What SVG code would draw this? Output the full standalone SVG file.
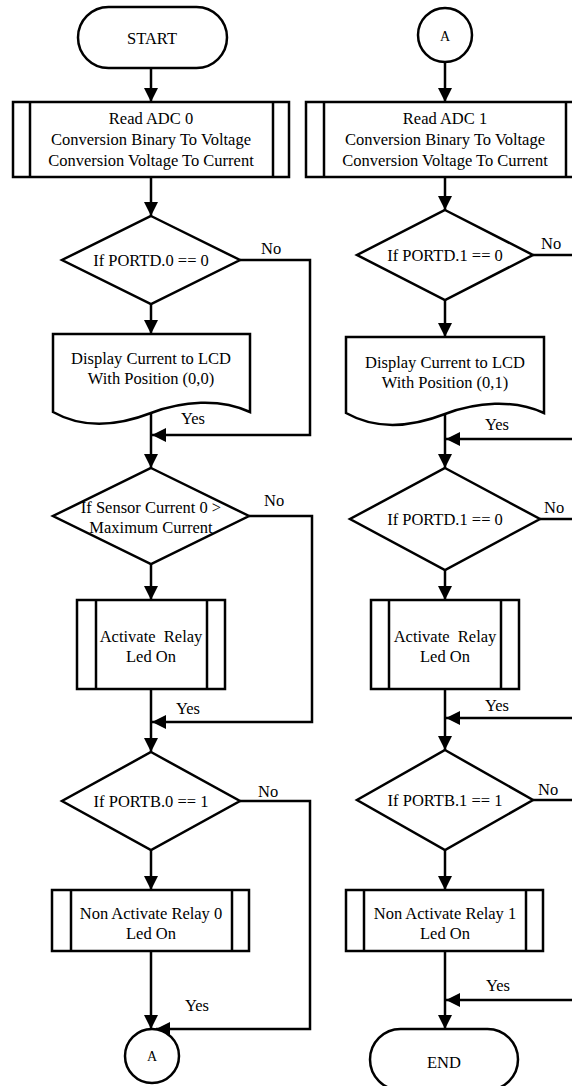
<svg xmlns="http://www.w3.org/2000/svg" width="572" height="1086" viewBox="0 0 572 1086">
<style>
.s{fill:#fff;stroke:#000;stroke-width:2.5}
.l{fill:none;stroke:#000;stroke-width:2.5}
text{font-family:"Liberation Serif","Times New Roman",serif;font-size:16.5px;fill:#000;text-anchor:middle;dominant-baseline:central}
.lb{text-anchor:start}
.sm{font-size:14px}
</style>
<defs>
<marker id="ah" markerUnits="userSpaceOnUse" markerWidth="16" markerHeight="14" refX="14" refY="7" orient="auto">
<path d="M0,0 L14,7 L0,14 Z" fill="#000"/>
</marker>
</defs>
<g id="connectors">
<line class="l" x1="151" y1="68" x2="151" y2="102" marker-end="url(#ah)"/>
<line class="l" x1="151" y1="177" x2="151" y2="216" marker-end="url(#ah)"/>
<line class="l" x1="151" y1="304" x2="151" y2="334" marker-end="url(#ah)"/>
<polyline class="l" points="240,260 310,260 310,435 152,435" marker-end="url(#ah)"/>
<line class="l" x1="151" y1="413" x2="151" y2="468" marker-end="url(#ah)"/>
<line class="l" x1="151" y1="564" x2="151" y2="600" marker-end="url(#ah)"/>
<polyline class="l" points="249,516 312,516 312,722 152,722" marker-end="url(#ah)"/>
<line class="l" x1="151" y1="689" x2="151" y2="752" marker-end="url(#ah)"/>
<line class="l" x1="151" y1="850" x2="151" y2="890" marker-end="url(#ah)"/>
<polyline class="l" points="240,801 310,801 310,1029 156,1029" marker-end="url(#ah)"/>
<line class="l" x1="151" y1="951" x2="151" y2="1029" marker-end="url(#ah)"/>
<line class="l" x1="445" y1="62" x2="445" y2="102" marker-end="url(#ah)"/>
<line class="l" x1="445" y1="177" x2="445" y2="210" marker-end="url(#ah)"/>
<line class="l" x1="445" y1="300" x2="445" y2="337" marker-end="url(#ah)"/>
<line class="l" x1="533" y1="255" x2="580" y2="255"/>
<line class="l" x1="580" y1="439" x2="446" y2="439" marker-end="url(#ah)"/>
<line class="l" x1="445" y1="413" x2="445" y2="468" marker-end="url(#ah)"/>
<line class="l" x1="445" y1="570" x2="445" y2="600" marker-end="url(#ah)"/>
<line class="l" x1="540" y1="519" x2="580" y2="519"/>
<line class="l" x1="580" y1="718" x2="446" y2="718" marker-end="url(#ah)"/>
<line class="l" x1="445" y1="689" x2="445" y2="750" marker-end="url(#ah)"/>
<line class="l" x1="445" y1="850" x2="445" y2="890" marker-end="url(#ah)"/>
<line class="l" x1="533" y1="800" x2="580" y2="800"/>
<line class="l" x1="580" y1="1000" x2="446" y2="1000" marker-end="url(#ah)"/>
<line class="l" x1="445" y1="951" x2="445" y2="1029" marker-end="url(#ah)"/>
<text class="lb" x="261" y="248">No</text>
<text class="lb" x="181" y="418">Yes</text>
<text class="lb" x="264" y="500">No</text>
<text class="lb" x="176" y="708">Yes</text>
<text class="lb" x="258" y="791">No</text>
<text class="lb" x="185" y="1005">Yes</text>
<text class="lb" x="541" y="243">No</text>
<text class="lb" x="485" y="424">Yes</text>
<text class="lb" x="544" y="507">No</text>
<text class="lb" x="485" y="705">Yes</text>
<text class="lb" x="538" y="789">No</text>
<text class="lb" x="486" y="985">Yes</text>
</g>
<g id="start">
<rect class="s" x="78" y="7" width="149" height="61" rx="30.5"/>
<text x="152" y="38">START</text>
</g>
<g id="read0">
<rect class="s" x="13" y="102" width="276" height="75"/>
<line class="l" x1="30" y1="102" x2="30" y2="177"/>
<line class="l" x1="273" y1="102" x2="273" y2="177"/>
<text x="151" y="118">Read ADC 0</text>
<text x="151" y="139">Conversion Binary To Voltage</text>
<text x="151" y="160">Conversion Voltage To Current</text>
</g>
<g id="dec0a">
<polygon class="s" points="151,216 240,260 151,304 62,260"/>
<text x="151" y="260">If PORTD.0 == 0</text>
</g>
<g id="disp0">
<path class="s" d="M53,334 H250 V412 C220,398 182,401 151,413 C120,425 85,430 53,412 Z"/>
<text x="151" y="358">Display Current to LCD</text>
<text x="151" y="378">With Position (0,0)</text>
</g>
<g id="dec0b">
<polygon class="s" points="151,468 249,516 151,564 53,516"/>
<text x="151" y="507">If Sensor Current 0 &gt;</text>
<text x="151" y="527">Maximum Current</text>
</g>
<g id="act0">
<rect class="s" x="77" y="600" width="148" height="89"/>
<line class="l" x1="96" y1="600" x2="96" y2="689"/>
<line class="l" x1="207" y1="600" x2="207" y2="689"/>
<text x="151" y="636" xml:space="preserve">Activate  Relay</text>
<text x="151" y="656">Led On</text>
</g>
<g id="dec0c">
<polygon class="s" points="151,752 240,801 151,850 62,801"/>
<text x="151" y="801">If PORTB.0 == 1</text>
</g>
<g id="nonact0">
<rect class="s" x="52" y="890" width="197" height="61"/>
<line class="l" x1="71" y1="890" x2="71" y2="951"/>
<line class="l" x1="232" y1="890" x2="232" y2="951"/>
<text x="151" y="913">Non Activate Relay 0</text>
<text x="151" y="933">Led On</text>
</g>
<g id="connA0">
<circle class="s" cx="152" cy="1056" r="27"/>
<text class="sm" x="152" y="1056">A</text>
</g>
<g id="connA1">
<circle class="s" cx="445" cy="35" r="27"/>
<text class="sm" x="445" y="36">A</text>
</g>
<g id="read1">
<rect class="s" x="306" y="102" width="276" height="75"/>
<line class="l" x1="324" y1="102" x2="324" y2="177"/>
<line class="l" x1="566" y1="102" x2="566" y2="177"/>
<text x="445" y="118">Read ADC 1</text>
<text x="445" y="139">Conversion Binary To Voltage</text>
<text x="445" y="160">Conversion Voltage To Current</text>
</g>
<g id="dec1a">
<polygon class="s" points="445,210 533,255 445,300 357,255"/>
<text x="445" y="255">If PORTD.1 == 0</text>
</g>
<g id="disp1">
<path class="s" d="M346,337 H544 V413 C514,399 476,402 445,414 C414,426 378,431 346,413 Z"/>
<text x="445" y="362">Display Current to LCD</text>
<text x="445" y="382">With Position (0,1)</text>
</g>
<g id="dec1b">
<polygon class="s" points="445,468 540,519 445,570 350,519"/>
<text x="445" y="519">If PORTD.1 == 0</text>
</g>
<g id="act1">
<rect class="s" x="371" y="600" width="148" height="89"/>
<line class="l" x1="389" y1="600" x2="389" y2="689"/>
<line class="l" x1="501" y1="600" x2="501" y2="689"/>
<text x="445" y="636" xml:space="preserve">Activate  Relay</text>
<text x="445" y="656">Led On</text>
</g>
<g id="dec1c">
<polygon class="s" points="445,750 533,800 445,850 357,800"/>
<text x="445" y="800">If PORTB.1 == 1</text>
</g>
<g id="nonact1">
<rect class="s" x="346" y="890" width="197" height="61"/>
<line class="l" x1="364" y1="890" x2="364" y2="951"/>
<line class="l" x1="526" y1="890" x2="526" y2="951"/>
<text x="445" y="913">Non Activate Relay 1</text>
<text x="445" y="933">Led On</text>
</g>
<g id="end">
<rect class="s" x="370" y="1029" width="148" height="61" rx="30.5"/>
<text x="444" y="1062">END</text>
</g>
</svg>
